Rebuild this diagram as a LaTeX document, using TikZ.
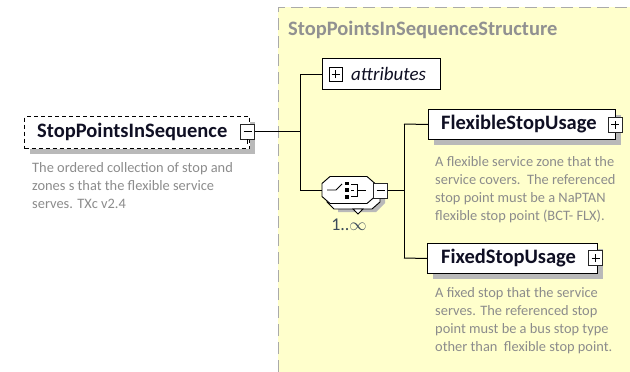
\documentclass[tikz,border=0pt]{standalone}
\usepackage{fontspec}
\setmainfont{Carlito}
\usetikzlibrary{shadows}
\definecolor{yellowbg}{RGB}{255,255,204}
\definecolor{bordergray}{RGB}{170,170,170}
\definecolor{shadowgray}{RGB}{185,185,185}
\definecolor{descgray}{RGB}{140,140,140}
\definecolor{structgray}{RGB}{145,145,145}
\definecolor{titleink}{RGB}{15,15,35}
\definecolor{occink}{RGB}{60,75,90}
\tikzset{
  elembox/.style={draw=black, line width=1pt, fill=white, rectangle, anchor=north west, inner sep=0pt,
    drop shadow={shadow xshift=5pt, shadow yshift=-5pt, fill=shadowgray, opacity=1}},
  pmbox/.style={draw=black!85, fill=white, line width=0.8pt, rectangle, minimum width=14pt, minimum height=15pt, inner sep=0pt},
  eltitle/.style={font=\bfseries\fontsize{20.5}{24}\selectfont, text=titleink, anchor=west, inner sep=0pt},
  desc/.style={font=\fontsize{14.4}{18}\selectfont, text=descgray, align=left, anchor=north west, inner sep=0pt},
  conn/.style={draw=black, line width=1pt},
  icon/.style={draw=black, line width=0.8pt},
  octo/.style={draw=black, line width=0.9pt, fill=white}
}
\begin{document}
\begin{tikzpicture}[x=1pt,y=-1pt]
\useasboundingbox (0,0) rectangle (630,372);
\fill[white] (0,0) rectangle (630,372);
% structure background
\fill[yellowbg] (278,7) rectangle (630,372);
\draw[bordergray, line width=1pt, dash pattern=on 12pt off 6pt] (278,372) -- (278,7) -- (630,7);
\node[anchor=west, inner sep=0pt, text=structgray, font=\bfseries\fontsize{20.5}{24}\selectfont] (stitle) at (288,30) {StopPointsInSequenceStructure};

% junction coordinates
\coordinate (v1top) at (300,74);
\coordinate (v1bot) at (300,190);
\coordinate (v2top) at (404,124);
\coordinate (v2bot) at (404,258);

% root element
\node[elembox, dash pattern=on 4pt off 3pt, minimum width=225pt, minimum height=32pt] (root) at (24,116) {};
\node[eltitle] (roott) at (37,132) {StopPointsInSequence};
\node[pmbox] (rootm) at (247.5,131.5) {};
\draw[icon] ([xshift=-4pt]rootm.center) -- ([xshift=4pt]rootm.center);
\draw[icon] (rootm.south) -- ++(0,5);
\node[desc] (rootd) at (32,162) {The ordered collection of stop and\\zones s that the flexible service\\serves. TXc v2.4};

% connectors left
\draw[conn] (rootm.east) -- (rootm.east -| v1top);
\draw[conn] (v1top) -- (v1bot);

% attributes
\node[draw=black, line width=1pt, fill=white, rectangle, anchor=north west, inner sep=0pt, minimum width=118pt, minimum height=31pt] (attr) at (322,58) {};
\node[draw=black, line width=0.8pt, fill=white, minimum width=13pt, minimum height=14pt, inner sep=0pt] (attrp) at (335.5,74) {};
\draw[icon] ([xshift=-4pt]attrp.center) -- ([xshift=4pt]attrp.center);
\draw[icon] ([yshift=-4pt]attrp.center) -- ([yshift=4pt]attrp.center);
\node[anchor=west, inner sep=0pt, font=\itshape\fontsize{19}{22}\selectfont, text=titleink] (attrt) at (351,74) {attributes};
\draw[conn] (v1top) -- (attr.west);

% sequence compositor
\fill[shadowgray] (338,188) -- (376,188) -- (385,197) -- (385,203) -- (376,212) -- (338,212) -- cycle;
\draw[octo] (334,182) -- (372,182) -- (380,189) -- (380,202) -- (372,209) -- (334,209) -- (327,202) -- (327,189) -- cycle;
\draw[black, line width=0.8pt, fill=white] (353,209) -- (363,209) -- (358,214) -- cycle;
\node[inner sep=0pt, minimum width=53pt, minimum height=27pt] (seq) at (348.5,190) {};
\draw[octo] (330,176.5) -- (367,176.5) -- (375,183.5) -- (375,196.5) -- (367,203.5) -- (330,203.5) -- (322,196.5) -- (322,183.5) -- cycle;
\draw[icon] (327,190) -- (336,190) -- (342,184);
\fill[black] (345,181.5) rectangle (348.5,185);
\fill[black] (345,188.3) rectangle (348.5,191.8);
\fill[black] (345,195) rectangle (348.5,198.5);
\draw[icon] (351,184) -- (357,184) -- (357,196) -- (351,196);
\draw[icon] (351,190) -- (354,190);
\draw[icon] (357,190) -- (366,190);
\node[pmbox] (seqm) at (380.5,190.5) {};
\draw[icon] ([xshift=-4pt]seqm.center) -- ([xshift=4pt]seqm.center);
\node[inner sep=0pt, font=\fontsize{18}{20}\selectfont, text=occink] (seqocc) at (349,225) {1..$\infty$};
\draw[conn] (v1bot) -- (seq.west);
\draw[conn] (seqm.east) -- (seqm.east -| v2top);
\draw[conn] (v2top) -- (v2bot);

% FlexibleStopUsage
\node[elembox, minimum width=187pt, minimum height=30pt] (flex) at (428,109) {};
\node[eltitle] (flext) at (441,124.5) {FlexibleStopUsage};
\node[pmbox] (flexp) at (615,124.5) {};
\draw[icon] ([xshift=-4pt]flexp.center) -- ([xshift=4pt]flexp.center);
\draw[icon] ([yshift=-4pt]flexp.center) -- ([yshift=4pt]flexp.center);
\node[desc] (flexd) at (435,156.5) {A flexible service zone that the\\service covers.\ \ The referenced\\stop point must be a NaPTAN\\flexible stop point (BCT- FLX).};
\draw[conn] (v2top) -- (flex.west);

% FixedStopUsage
\node[elembox, minimum width=170pt, minimum height=30pt] (fixed) at (427,243) {};
\node[eltitle] (fixedt) at (441,258) {FixedStopUsage};
\node[pmbox] (fixedp) at (595.5,258) {};
\draw[icon] ([xshift=-4pt]fixedp.center) -- ([xshift=4pt]fixedp.center);
\draw[icon] ([yshift=-4pt]fixedp.center) -- ([yshift=4pt]fixedp.center);
\node[desc] (fixedd) at (435,287.5) {A fixed stop that the service\\serves. The referenced stop\\point must be a bus stop type\\other than\ \ flexible stop point.};
\draw[conn] (v2bot) -- (fixed.west);
\end{tikzpicture}
\end{document}
